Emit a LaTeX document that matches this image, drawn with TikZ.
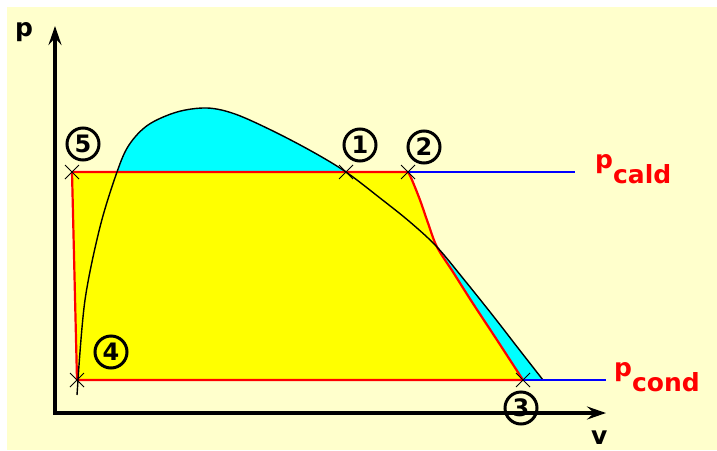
\documentclass[tikz,border=0pt]{standalone}
\usepackage{fontspec}
\setmainfont{DejaVu Sans}
\usetikzlibrary{arrows.meta}

\definecolor{paper}{HTML}{FFFFCC}
\definecolor{wet}{HTML}{00FFFF}
\definecolor{cyc}{HTML}{FFFF00}

\def\domeline{plot[smooth, tension=0.55] coordinates {(78,380) (85,300) (100,227) (117,172) (129,145) (148,125) (177,112) (207,108) (235,114) (273,131) (313,152) (p1) (380,198) (410,222) (k) (466,282) (494,317) (518,348) (543,380)}}

\begin{document}
\begin{tikzpicture}[
  x=1pt, y=-1pt,
  axis/.style={line width=3.4pt, line join=miter,
    {Stealth[length=19pt, width=13pt, inset=7pt]}-{Stealth[length=19pt, width=13pt, inset=7pt]}},
  dome/.style={draw=black, line width=1.4pt},
  wetzone/.style={fill=wet},
  cyclezone/.style={fill=cyc, draw=red, line width=2.2pt, line join=round},
  isobar/.style={draw=blue, line width=2.2pt},
  ptcross/.style={draw=black, line width=0.9pt},
  tag/.style={circle, draw=black, line width=3pt, minimum size=32pt,
    inner sep=0pt, font=\bfseries\fontsize{24}{24}\selectfont},
  plabel/.style={inner sep=0pt, anchor=base west,
    font=\bfseries\fontsize{25}{25}\selectfont},
]
  \useasboundingbox (0,0) rectangle (717,450);
  \fill[white] (0,0) rectangle (717,450);
  \fill[paper] (7,7) rectangle (717,450);

  \coordinate (p1) at (346,172);
  \coordinate (p2) at (408,172);
  \coordinate (p3) at (523,380);
  \coordinate (p4) at (77,380);
  \coordinate (p5) at (72,172);
  \coordinate (k) at (437,247);
  \coordinate (o) at (55,413);
  \coordinate (ytip) at (55,26);
  \coordinate (xtip) at (606,413);
  \coordinate (caldend) at (575,172);
  \coordinate (condend) at (606,380);
  \coordinate (domefoot) at (77,395);

  \fill[wetzone] \domeline -- cycle;
  \filldraw[cyclezone] (p4) -- (p5)
    -- plot[smooth, tension=0.55] coordinates {(p2) (412,180) (420,200) (428,223) (k) (453,272) (472,302) (497,340) (p3)}
    -- cycle;
  \draw[dome] (domefoot) -- (78,380);
  \draw[dome] \domeline;

  \draw[isobar] (p2) -- (caldend);
  \draw[isobar] (p3) -- (condend);

  \draw[axis] (ytip) -- (o) -- (xtip);

  \foreach \p in {p1,p2,p3,p4,p5} {
    \draw[ptcross] ([shift={(-7,-7)}]\p) -- ([shift={(7,7)}]\p)
                   ([shift={(-7,7)}]\p) -- ([shift={(7,-7)}]\p);
  }

  \node[tag] (t1) at (360,145) {1};
  \node[tag] (t2) at (424,147) {2};
  \node[tag] (t3) at (521,408) {3};
  \node[tag] (t4) at (111,352) {4};
  \node[tag] (t5) at (83,144) {5};

  \node[plabel] (axp) at (15,36) {p};
  \node[plabel] (axv) at (591,444) {v};
  \node[plabel, text=red] (cald) at (595,168) {p\raisebox{-15pt}{cald}};
  \node[plabel, text=red] (cond) at (614,376) {p\raisebox{-15pt}{cond}};
\end{tikzpicture}
\end{document}
